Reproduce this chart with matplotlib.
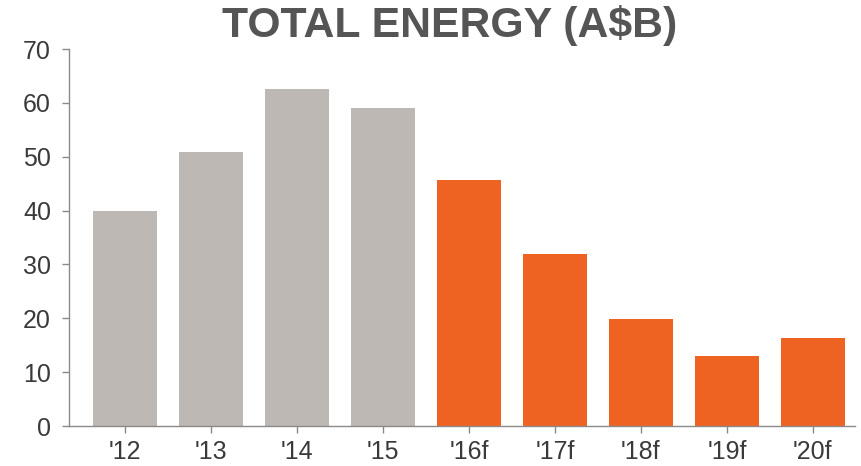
import matplotlib
matplotlib.use("Agg")
import matplotlib.pyplot as plt

# data
years = ["'12", "'13", "'14", "'15", "'16f", "'17f", "'18f", "'19f", "'20f"]
values = [40.0, 50.9, 62.6, 59.0, 45.7, 31.9, 19.9, 13.0, 16.3]
is_forecast = [False, False, False, False, True, True, True, True, True]

grey = "#bdb8b3"
orange = "#ef6322"
colors = [orange if f else grey for f in is_forecast]

plt.rcParams["font.family"] = ["Liberation Sans", "DejaVu Sans"]

fig = plt.figure(figsize=(8.61, 4.66), dpi=100)
ax = fig.add_axes([0.0801, 0.0858, 0.913, 0.809])

x = range(len(years))
ax.bar(x, values, width=0.75, color=colors, zorder=2)

ax.set_xlim(-0.65, len(years) - 1 + 0.49)
ax.set_ylim(0, 70)
ax.set_yticks(range(0, 71, 10))
ax.set_xticks(list(x))
ax.set_xticklabels(years)

for side in ["top", "right"]:
    ax.spines[side].set_visible(False)
for side in ["left", "bottom"]:
    ax.spines[side].set_color("#8a8a8a")
    ax.spines[side].set_linewidth(1.0)

ax.tick_params(axis="both", colors="#8a8a8a", length=5, width=1.0,
               labelcolor="#3a3a3a", labelsize=18)
ax.tick_params(axis="y", pad=8)
ax.tick_params(axis="x", pad=5)

fig.text(0.522, 0.92, "TOTAL ENERGY (A$B)", ha="center", va="baseline",
         fontsize=30.8, fontweight="bold", color="#555555")

fig.savefig("out.png", dpi=100)
